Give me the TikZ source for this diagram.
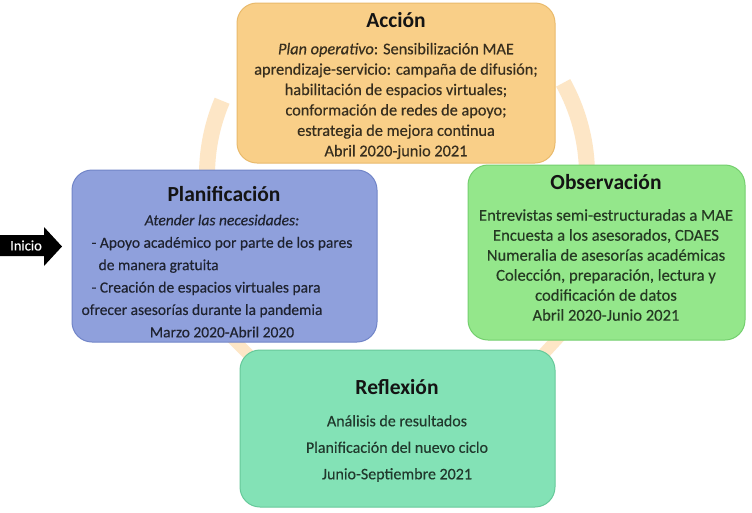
\documentclass[tikz,border=0pt]{standalone}
\usepackage{fontspec}
\setmainfont{Carlito}
\newfontfamily\bodyfont{Carlito}[FakeBold=0.35]
\definecolor{accfill}{HTML}{F9CF88}
\definecolor{accdraw}{HTML}{E9BA6C}
\definecolor{plafill}{HTML}{8FA0DC}
\definecolor{pladraw}{HTML}{7185C8}
\definecolor{obsfill}{HTML}{94E78B}
\definecolor{obsdraw}{HTML}{74CF6E}
\definecolor{reffill}{HTML}{83E2B6}
\definecolor{refdraw}{HTML}{66C99A}
\definecolor{ringc}{HTML}{FDE6C6}
\definecolor{txt}{HTML}{141414}
\newlength{\apoyow}
\begin{document}
\settowidth{\apoyow}{\bodyfont\fontsize{15.5}{22.4}\selectfont - Apoyo académico por parte de los pares}%
\begin{tikzpicture}[x=1pt,y=-1pt,
  box/.style={draw, line width=1pt, rounded corners=20pt, inner sep=0pt},
  ttl/.style={font=\fontsize{21.5}{24}\selectfont\bfseries, text=txt, inner sep=0pt},
  body/.style={align=center, inner sep=0pt},
  ringarc/.style={draw=ringc, line width=16pt}
]
\useasboundingbox (0,0) rectangle (752,512);
\fill[white] (0,0) rectangle (752,512);

% faint cycle ring behind the boxes
\draw[ringarc] (397,175) ++(203:190) arc[start angle=203, end angle=150, radius=190];
\draw[ringarc] (397,175) ++(-29:190) arc[start angle=-29, end angle=25, radius=190];
\draw[draw=ringc, line width=12pt] (232,338) -- (254,360);
\draw[draw=ringc, line width=12pt] (560,336) -- (538,360);

% boxes
\node[box, fill=accfill, draw=accdraw, minimum width=318pt, minimum height=160pt] (accion) at (396,83) {};
\node[box, fill=plafill, draw=pladraw, minimum width=305pt, minimum height=172pt] (plan) at (224.5,256) {};
\node[box, fill=obsfill, draw=obsdraw, minimum width=277pt, minimum height=175pt] (obs) at (606.5,252.5) {};
\node[box, fill=reffill, draw=refdraw, minimum width=315pt, minimum height=157pt] (refl) at (397.5,428.5) {};

% titles
\node[ttl] (tacc) at (396,20) {Acción};
\node[ttl] (tpla) at (224,194) {Planificación};
\node[ttl] (tobs) at (606,182) {Observación};
\node[ttl] (tref) at (397,387) {Reflexión};

% bodies
\node[body, text=black!78!accfill, font=\bodyfont\fontsize{16.3}{20.4}\selectfont] (bacc) at (396,101) {%
\textit{Plan operativo}: Sensibilización MAE\\
aprendizaje-servicio: campaña de difusión;\\
habilitación de espacios virtuales;\\
conformación de redes de apoyo;\\
estrategia de mejora continua\\
Abril 2020-junio 2021};

\node[body, text=black!78!plafill, font=\bodyfont\fontsize{15.5}{22.4}\selectfont] (bpla) at (222,276) {%
\textit{Atender las necesidades:}\\
\makebox[\apoyow][l]{- Apoyo académico por parte de los pares}\\
\makebox[\apoyow][l]{\ \ de manera gratuita}\\
\makebox[\apoyow][l]{- Creación de espacios virtuales para}\\
\makebox[\apoyow][l]{\hspace*{-10pt}ofrecer asesorías durante la pandemia}\\
Marzo 2020-Abril 2020};

\node[body, text=black!75!obsfill, font=\bodyfont\fontsize{16.6}{20}\selectfont] (bobs) at (606,265) {%
Entrevistas semi-estructuradas a MAE\\
Encuesta a los asesorados, CDAES\\
Numeralia de asesorías académicas\\
Colección, preparación, lectura y\\
codificación de datos\\
Abril 2020-Junio 2021};

\node[body, text=black!75!reffill, font=\bodyfont\fontsize{16}{26.5}\selectfont] (bref) at (397,448.5) {%
Análisis de resultados\\
Planificación del nuevo ciclo\\
Junio-Septiembre 2021};

% start arrow
\fill[black] (0,235) -- (44,235) -- (44,227) -- (62,246.5) -- (44,266) -- (44,256) -- (0,256) -- cycle;
\node[text=white, font=\bodyfont\fontsize{14.5}{16}\selectfont, inner sep=0pt] (inicio) at (26,245.5) {Inicio};
\end{tikzpicture}
\end{document}
